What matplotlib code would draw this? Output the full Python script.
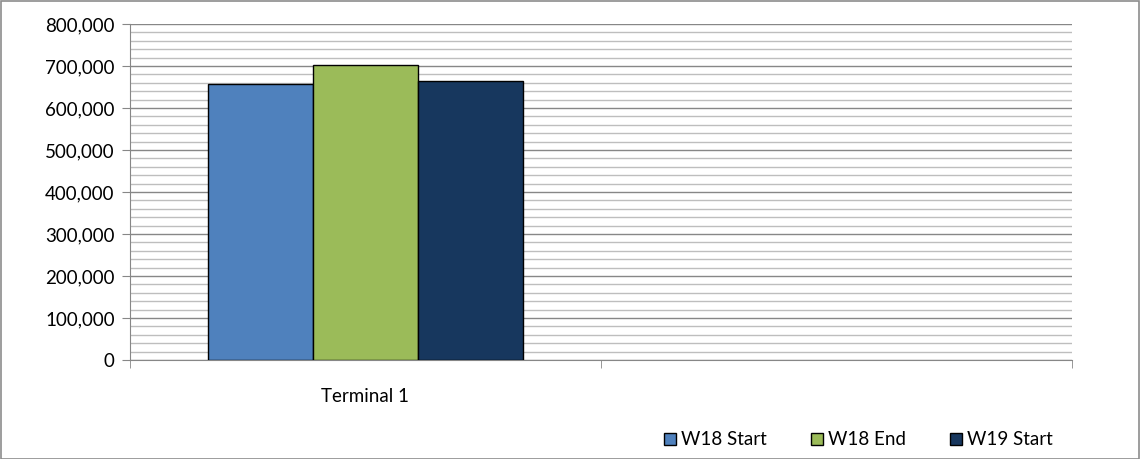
import numpy as np
import matplotlib.pyplot as plt
from matplotlib.patches import Rectangle
from matplotlib.ticker import FuncFormatter, MultipleLocator

# data
categories = ['Terminal 1', '']
series_names = ['W18 Start', 'W18 End', 'W19 Start']
w18_start = [657000, np.nan]
w18_end = [703000, np.nan]
w19_start = [665000, np.nan]
colors = ['#4F81BD', '#9BBB59', '#17375E']

plt.rcParams['font.family'] = ['Lato', 'DejaVu Sans']

fig = plt.figure(figsize=(11.41, 4.59), dpi=100)
ax = fig.add_axes([0.1139, 0.2157, 0.8256, 0.732])

x = np.arange(len(categories))
width = 0.223
for i, (vals, name, c) in enumerate(zip([w18_start, w18_end, w19_start], series_names, colors)):
    ax.bar(x + (i - 1) * width, vals, width, color=c, edgecolor='black', linewidth=1, label=name, zorder=3)

ax.set_xlim(-0.5, 1.5)
ax.set_ylim(0, 800000)
ax.yaxis.set_major_locator(MultipleLocator(100000))
ax.yaxis.set_minor_locator(MultipleLocator(20000))
ax.yaxis.set_major_formatter(FuncFormatter(lambda v, p: f'{int(v):,}'))
ax.grid(which='major', axis='y', color='#878787', linewidth=1, zorder=0)
ax.grid(which='minor', axis='y', color='#BEBEBE', linewidth=1, zorder=0)

ax.set_xticks(x)
ax.set_xticklabels(categories)
ax.set_xticks([-0.5, 0.5, 1.5], minor=True)
ax.tick_params(axis='x', which='major', length=0, pad=20, labelsize=13.5)
ax.tick_params(axis='x', which='minor', length=6, color='#878787', direction='out')
ax.tick_params(axis='y', which='major', length=6, color='#878787', labelsize=13.5, pad=5)
ax.tick_params(axis='y', which='minor', length=0)

for s in ['top', 'right']:
    ax.spines[s].set_visible(False)
for s in ['left', 'bottom']:
    ax.spines[s].set_color('#878787')

leg = ax.legend(loc='center', bbox_to_anchor=(0.773, -0.238), ncol=3, frameon=False,
                fontsize=13.5, handlelength=0.65, handleheight=0.65, handletextpad=0.25,
                columnspacing=2.35)
for h in leg.legend_handles:
    h.set_linewidth(1)

fig.patches.append(Rectangle((0.001, 0.001), 0.997, 0.996, transform=fig.transFigure,
                             fill=False, edgecolor='#8C8C8C', linewidth=1.2))

fig.savefig('out.png', dpi=100, facecolor='white')
